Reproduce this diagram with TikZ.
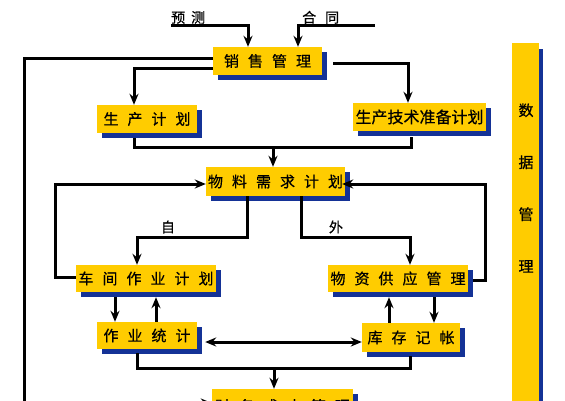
\documentclass[tikz,border=0pt]{standalone}
\usepackage{fontspec}
\newfontfamily\cjk[FakeBold=0.6]{Noto Sans CJK SC}
\usepackage{tikz}
\usetikzlibrary{arrows.meta}
\usetikzlibrary{shadows}
\definecolor{boxyellow}{RGB}{255,204,0}
\definecolor{shadowblue}{RGB}{20,50,150}
\newcommand{\gp}{\hspace{9pt}}

\begin{document}
\begin{tikzpicture}[x=1pt, y=-1pt, >={Stealth[length=11pt,width=9pt]}]
	\tikzstyle{box}=[fill=boxyellow, inner sep=0pt, minimum height=28pt, font=\cjk\fontsize{15}{18}\selectfont, drop shadow={shadow xshift=5pt, shadow yshift=-5pt, fill=shadowblue, opacity=1}]
	\tikzstyle{bar}=[fill=boxyellow, inner sep=0pt, minimum width=27pt, minimum height=380pt, drop shadow={shadow xshift=4pt, shadow yshift=-6pt, fill=shadowblue, opacity=1}]
	\tikzstyle{lbl}=[inner sep=0pt, font=\cjk\fontsize{14}{16}\selectfont]
	\tikzstyle{link}=[line width=3pt, draw=black]
	
	\useasboundingbox (0,0) rectangle (565,400);
	\clip (0,0) rectangle (565,400);
	
	% Draw boxes
	\node[box, minimum width=109pt] (sales) at (267.5,61) {销\gp 售\gp 管\gp 理};
	\node[box, minimum width=100pt] (prod) at (147,119) {生\gp 产\gp 计\gp 划};
	\node[box, minimum width=133pt, font=\cjk\fontsize{16}{18}\selectfont] (tech) at (419.5,117) {生产技术准备计划};
	\node[box, minimum width=139pt, minimum height=29pt] (mrp) at (275.5,181.5) {物\gp 料\gp 需\gp 求\gp 计\gp 划};
	\node[box, minimum width=140pt, minimum height=27pt] (shop) at (146,278.5) {车\gp 间\gp 作\gp 业\gp 计\gp 划};
	\node[box, minimum width=140pt, minimum height=27pt] (supply) at (398,278.5) {物\gp 资\gp 供\gp 应\gp 管\gp 理};
	\node[box, minimum width=100pt, minimum height=27pt] (stat) at (147,335.5) {作\gp 业\gp 统\gp 计};
	\node[box, minimum width=98pt, minimum height=29pt] (stock) at (411,337.5) {库\gp 存\gp 记\gp 帐};
	\node[box, minimum width=141pt, minimum height=34pt] (cost) at (282.5,406) {财\gp 务\gp 成\gp 本\gp 管\gp 理};
	\node[bar] (data) at (525.5,233) {};
	\node[lbl, font=\cjk\fontsize{15}{52}\selectfont, align=center] (datalbl) at (526,188) {数\\据\\管\\理};
	
	% Draw labels
	\node[lbl, anchor=south west] (fcst) at (171,24) {预\hspace{6pt}测};
	\node[lbl, anchor=south west] (ctrt) at (302,24) {合\hspace{9pt}同};
	\coordinate (ctend) at (375,25);
	\node[lbl] (inhouse) at (168,227) {自};
	\node[lbl] (extern) at (336,227) {外};
	
	% Draw arrows
	\draw[link,->] ([yshift=-1pt]fcst.south west) -| ([xshift=-19.5pt]sales.north);
	\draw[link,->] (ctend) -| ([xshift=30.5pt]sales.north);
	\draw[link,->] ([yshift=3pt]sales.west) -- ++(-188,0) |- ([yshift=3pt]cost.west);
	\draw[link,->] ([yshift=-7pt]sales.west) -| ([xshift=-13pt]prod.north);
	\draw[link,->] ([xshift=11pt,yshift=-2pt]sales.east) -| ([xshift=-11.5pt]tech.north);
	
	\coordinate (join1) at (273,147);
	\draw[link] ([xshift=-13pt,yshift=-5pt]prod.south) |- (join1) -| ([xshift=-8.5pt,yshift=-6pt]tech.south);
	\draw[link,->] (join1) -- (join1 |- mrp.north);
	
	\draw[link,->] ([yshift=1.5pt]shop.west) -- ++(-20,0) |- ([yshift=-2.5pt]mrp.west);
	\draw[link,->] ([xshift=5pt,yshift=-1.5pt]supply.east) -- ++(12,0) |- ([xshift=-3pt,yshift=-2.5pt]mrp.east);
	\draw[link,->] ([xshift=-28.5pt]mrp.south) -- ++(0,41) -| ([xshift=-9pt]shop.north);
	\draw[link,->] ([xshift=25.5pt]mrp.south) -- ++(0,41) -| ([xshift=12pt]supply.north);
	
	\draw[link,->] ([xshift=-31pt,yshift=-5pt]shop.south) -- ([xshift=-32pt]stat.north);
	\draw[link,->] ([xshift=9pt]stat.north) -- ([xshift=10pt,yshift=-5pt]shop.south);
	\draw[link,->] ([xshift=-22pt]stock.north) -- ([xshift=-9pt,yshift=-5pt]supply.south);
	\draw[link,->] ([xshift=36pt,yshift=-5pt]supply.south) -- ([xshift=23pt]stock.north);
	
	\coordinate (dbl) at ([xshift=8pt,yshift=-6.5pt]stat.east);
	\draw[link,<->] (dbl) -- (dbl -| stock.west);
	
	\coordinate (join2) at (274,368);
	\draw[link] ([xshift=-10pt,yshift=-4pt]stat.south) |- (join2) -| ([xshift=-1pt,yshift=-4pt]stock.south);
	\draw[link,->] (join2) -- (join2 |- cost.north);
	
\end{tikzpicture}
\end{document}
